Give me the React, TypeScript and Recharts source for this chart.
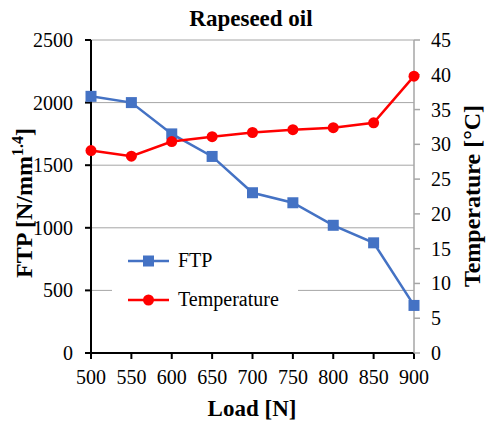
import React from 'react';
import { ComposedChart, Line, XAxis, YAxis, CartesianGrid } from 'recharts';

const loads = [500, 550, 600, 650, 700, 750, 800, 850, 900];
const ftp = [2050, 2000, 1750, 1570, 1280, 1200, 1020, 880, 380];
const temperature = [29.1, 28.3, 30.4, 31.1, 31.7, 32.1, 32.4, 33.1, 39.8];
const ftpTicks = [0, 500, 1000, 1500, 2000, 2500];
const tempTicks = [0, 5, 10, 15, 20, 25, 30, 35, 40, 45];

const data = loads.map((load, i) => ({ load, ftp: ftp[i], temperature: temperature[i] }));

const FONT = '"Liberation Serif", "Times New Roman", serif';
const BLUE = '#4472C4';
const RED = '#FF0000';

const SquareDot = (props: any) => {
  const { cx, cy, key } = props;
  return <rect key={key} x={cx - 5.5} y={cy - 5.5} width={11} height={11} fill={BLUE} />;
};

const CircleDot = (props: any) => {
  const { cx, cy, key } = props;
  return <circle key={key} cx={cx} cy={cy} r={5.5} fill={RED} />;
};

// tick label renderers, so the serif font is applied for sure
const XTick = ({ x, y, payload }: any) => (
  <text x={x} y={y + 25} textAnchor="middle" fontSize={20} fontFamily={FONT} fill="#000">{payload.value}</text>
);
const LeftTick = ({ x, y, payload }: any) => (
  <text x={x} y={y + 7} textAnchor="end" fontSize={20} fontFamily={FONT} fill="#000">{payload.value}</text>
);
const RightTick = ({ x, y, payload }: any) => (
  <text x={x} y={y + 7} textAnchor="start" fontSize={20} fontFamily={FONT} fill="#000">{payload.value}</text>
);

export default function App() {
  return (
    <div style={{ position: 'absolute', left: 0, top: 0, width: 488, height: 424, background: '#fff', fontFamily: FONT }}>
      <ComposedChart
        width={488}
        height={424}
        data={data}
        margin={{ top: 40, right: 0, bottom: 0, left: 0 }}
      >
        <CartesianGrid yAxisId="left" vertical={false} stroke="#A6A6A6" strokeWidth={1} />
        <XAxis
          dataKey="load"
          type="number"
          domain={[500, 900]}
          ticks={loads}
          height={71}
          axisLine={{ stroke: '#000', strokeWidth: 2 }}
          tickLine={{ stroke: '#000', strokeWidth: 2 }}
          tickSize={6}
          tickMargin={0}
          tick={XTick}
          interval={0}
        />
        <YAxis
          yAxisId="left"
          orientation="left"
          width={91}
          domain={[0, 2500]}
          ticks={ftpTicks}
          axisLine={{ stroke: '#000', strokeWidth: 2 }}
          tickLine={{ stroke: '#000', strokeWidth: 2 }}
          tickSize={6}
          tickMargin={12}
          tick={LeftTick}
          interval={0}
        />
        <YAxis
          yAxisId="right"
          orientation="right"
          width={74}
          domain={[0, 45]}
          ticks={tempTicks}
          axisLine={{ stroke: '#A6A6A6', strokeWidth: 1.5 }}
          tickLine={{ stroke: '#A6A6A6', strokeWidth: 1.5 }}
          tickSize={6}
          tickMargin={11}
          tick={RightTick}
          interval={0}
        />
        <Line
          yAxisId="left"
          dataKey="ftp"
          name="FTP"
          stroke={BLUE}
          strokeWidth={2.5}
          dot={SquareDot}
          activeDot={false}
          isAnimationActive={false}
        />
        <Line
          yAxisId="right"
          dataKey="temperature"
          name="Temperature"
          stroke={RED}
          strokeWidth={2.5}
          dot={CircleDot}
          activeDot={false}
          isAnimationActive={false}
        />
      </ComposedChart>
      <svg
        width={488}
        height={424}
        style={{ position: 'absolute', left: 0, top: 0, pointerEvents: 'none' }}
        fontFamily={FONT}
      >
        <g transform="translate(112,248)">
          <rect x={0} y={0} width={186} height={70} fill="#fff" />
          <line x1={16} x2={57} y1={13} y2={13} stroke={BLUE} strokeWidth={2.5} />
          <rect x={31} y={7.5} width={11} height={11} fill={BLUE} />
          <line x1={16} x2={57} y1={52} y2={52} stroke={RED} strokeWidth={2.5} />
          <circle cx={36.5} cy={52} r={5.5} fill={RED} />
          <text x={66} y={19} fontSize={20}>FTP</text>
          <text x={66} y={58} fontSize={20}>Temperature</text>
        </g>
        <text x={251} y={26} textAnchor="middle" fontSize={23} fontWeight="bold">Rapeseed oil</text>
        <text x={252} y={416} textAnchor="middle" fontSize={23} fontWeight="bold">Load [N]</text>
        <text transform="translate(32,203) rotate(-90)" textAnchor="middle" fontSize={24} fontWeight="bold">
          FTP [N/mm<tspan fontSize={16} dy={-9}>1.4</tspan><tspan dy={9}>]</tspan>
        </text>
        <text transform="translate(480,196) rotate(-90)" textAnchor="middle" fontSize={24} fontWeight="bold">
          Temperature [°C]
        </text>
      </svg>
    </div>
  );
}
